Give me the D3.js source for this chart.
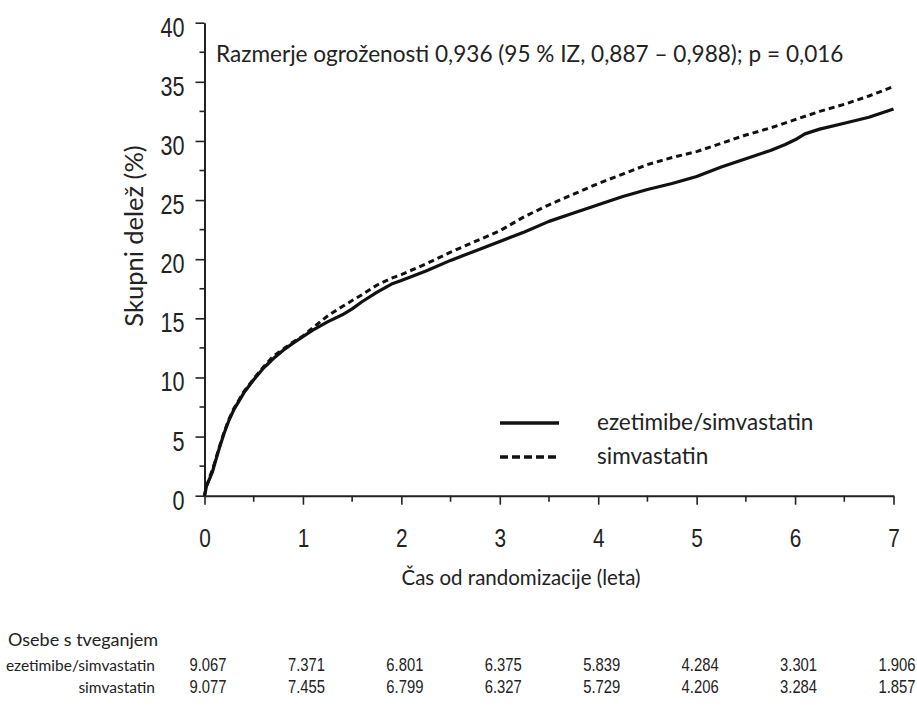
<!DOCTYPE html>
<html>
<head>
<meta charset="utf-8">
<script src="https://cdn.jsdelivr.net/npm/d3@7"></script>
<style>
  html, body { margin: 0; padding: 0; background: #fff; }
  svg { display: block; }
  .calibri { font-family: Lato, "Open Sans", sans-serif; fill: #222; }
  .narrow { font-family: "Liberation Sans", Arial, sans-serif; fill: #222; }
</style>
</head>
<body>
<svg id="chart" width="917" height="709"></svg>
<script>
// ---- data ----
const timeSolid = [0, 0.02, 0.05, 0.08, 0.1, 0.15, 0.2, 0.25, 0.3, 0.35, 0.4, 0.5, 0.6, 0.7, 0.8, 0.9, 1.0, 1.1, 1.25, 1.4, 1.5, 1.6, 1.75, 1.9, 2.0, 2.25, 2.5, 2.75, 3.0, 3.25, 3.5, 3.75, 4.0, 4.25, 4.5, 4.75, 5.0, 5.25, 5.5, 5.75, 5.9, 6.0, 6.1, 6.25, 6.5, 6.75, 7.0];
const ezetimibeSimvastatin = [0, 0.8, 1.4, 2.0, 2.6, 4.0, 5.3, 6.4, 7.3, 8.0, 8.7, 9.8, 10.8, 11.6, 12.3, 12.9, 13.45, 14.0, 14.7, 15.3, 15.8, 16.4, 17.2, 17.9, 18.2, 19.0, 19.9, 20.7, 21.5, 22.3, 23.2, 23.9, 24.6, 25.3, 25.9, 26.4, 27.0, 27.8, 28.5, 29.2, 29.7, 30.1, 30.6, 31.0, 31.5, 32.0, 32.7];
const timeDashed = [0, 0.02, 0.05, 0.08, 0.1, 0.15, 0.2, 0.25, 0.3, 0.35, 0.4, 0.5, 0.6, 0.7, 0.8, 0.9, 1.0, 1.1, 1.25, 1.4, 1.5, 1.6, 1.75, 1.9, 2.0, 2.25, 2.5, 2.75, 3.0, 3.25, 3.5, 3.75, 4.0, 4.25, 4.5, 4.75, 5.0, 5.25, 5.5, 5.75, 6.0, 6.25, 6.5, 6.75, 7.0];
const simvastatin = [0, 0.8, 1.5, 2.2, 2.7, 4.1, 5.4, 6.5, 7.4, 8.1, 8.8, 9.9, 10.9, 11.8, 12.4, 13.0, 13.5, 14.2, 15.2, 16.0, 16.5, 17.0, 17.8, 18.4, 18.7, 19.6, 20.6, 21.5, 22.4, 23.6, 24.6, 25.5, 26.4, 27.2, 28.0, 28.6, 29.1, 29.8, 30.5, 31.1, 31.8, 32.5, 33.1, 33.8, 34.6];

const xTicks = [0, 1, 2, 3, 4, 5, 6, 7];
const yTicks = [0, 5, 10, 15, 20, 25, 30, 35, 40];
const seriesNames = ["ezetimibe/simvastatin", "simvastatin"];
const atRiskTitle = "Osebe s tveganjem";
const atRiskEze = ["9.067", "7.371", "6.801", "6.375", "5.839", "4.284", "3.301", "1.906"];
const atRiskSim = ["9.077", "7.455", "6.799", "6.327", "5.729", "4.206", "3.284", "1.857"];
const annotation = "Razmerje ogroženosti 0,936 (95 % IZ, 0,887 – 0,988); p = 0,016";
const xTitle = "Čas od randomizacije (leta)";
const yTitle = "Skupni delež (%)";

// ---- scales ----
const svg = d3.select("#chart");
const x = d3.scaleLinear().domain([0, 7]).range([204.5, 893.5]);
const y = d3.scaleLinear().domain([0, 40]).range([495.7, 22.7]);
const NARROW = 0.8;

// ---- y axis ----
const yAxis = svg.append("g").attr("transform", `translate(${x(0)},0)`);
yAxis.call(d3.axisLeft(y).tickValues(yTicks).tickSize(9).tickSizeOuter(0).tickFormat(d3.format("d")));
yAxis.append("g").selectAll("line")
  .data(d3.range(2.5, 40, 5))
  .join("line")
  .attr("x1", 0).attr("x2", -5)
  .attr("y1", d => y(d)).attr("y2", d => y(d))
  .attr("stroke", "#222").attr("stroke-width", 1.6);
yAxis.select(".domain").attr("stroke", "#222").attr("stroke-width", 2);
yAxis.selectAll(".tick line").attr("stroke", "#222").attr("stroke-width", 1.6);
yAxis.selectAll(".tick text").attr("class", "narrow").attr("font-size", 27).attr("fill", "#222")
  .attr("x", -20 / NARROW).attr("y", 13.5).attr("dy", null)
  .attr("transform", `scale(${NARROW},1)`);

// ---- x axis ----
const xAxis = svg.append("g").attr("transform", `translate(0,${y(0)})`);
xAxis.call(d3.axisBottom(x).tickValues(xTicks).tickSize(9).tickSizeOuter(0).tickFormat(d3.format("d")));
xAxis.append("g").selectAll("line")
  .data(d3.range(0.5, 7, 1))
  .join("line")
  .attr("x1", d => x(d)).attr("x2", d => x(d))
  .attr("y1", 0).attr("y2", 6)
  .attr("stroke", "#222").attr("stroke-width", 1.6);
xAxis.select(".domain").attr("stroke", "#222").attr("stroke-width", 2);
xAxis.selectAll(".tick line").attr("stroke", "#222").attr("stroke-width", 1.6);
xAxis.selectAll(".tick text").attr("class", "narrow").attr("font-size", 26).attr("fill", "#222")
  .attr("y", 51).attr("dy", null).attr("transform", `scale(${NARROW},1)`);

// ---- curves ----
const line = d3.line().x(d => x(d[0])).y(d => y(d[1])).curve(d3.curveLinear);
svg.append("path")
  .datum(timeDashed.map((t, i) => [t, simvastatin[i]]))
  .attr("d", line).attr("fill", "none")
  .attr("stroke", "#111").attr("stroke-width", 3).attr("stroke-dasharray", "6,4");
svg.append("path")
  .datum(timeSolid.map((t, i) => [t, ezetimibeSimvastatin[i]]))
  .attr("d", line).attr("fill", "none")
  .attr("stroke", "#111").attr("stroke-width", 3.2).attr("stroke-linejoin", "round");

// ---- annotation ----
svg.append("text").attr("class", "calibri")
  .attr("x", 216).attr("y", 62).attr("font-size", 22.6)
  .text(annotation);

// ---- legend ----
const legend = svg.append("g");
const legendStyles = [{dash: null, w: 3.5}, {dash: "8,4", w: 3.5}];
seriesNames.forEach((name, i) => {
  const ly = 423 + i * 34;
  legend.append("line").attr("x1", 500).attr("x2", 559).attr("y1", ly).attr("y2", ly)
    .attr("stroke", "#111").attr("stroke-width", legendStyles[i].w)
    .attr("stroke-dasharray", legendStyles[i].dash);
  legend.append("text").attr("class", "calibri").attr("x", 597).attr("y", ly + 7)
    .attr("font-size", 22.5).text(name);
});

// ---- axis titles ----
svg.append("text").attr("class", "calibri").attr("text-anchor", "middle")
  .attr("x", 521).attr("y", 585).attr("font-size", 20.5).text(xTitle);
svg.append("text").attr("class", "calibri").attr("text-anchor", "middle")
  .attr("transform", `translate(143,236) rotate(-90)`).attr("font-size", 25.5).text(yTitle);

// ---- at-risk table ----
svg.append("text").attr("class", "calibri").attr("x", 8).attr("y", 646).attr("font-size", 18).text(atRiskTitle);
[[seriesNames[0], atRiskEze, 671], [seriesNames[1], atRiskSim, 693]].forEach(([name, vals, ry]) => {
  svg.append("text").attr("class", "calibri").attr("text-anchor", "end")
    .attr("x", 155).attr("y", ry).attr("font-size", 15.5).text(name);
  svg.append("g").selectAll("text").data(vals).join("text")
    .attr("class", "narrow").attr("text-anchor", "middle")
    .attr("x", (d, i) => (x(xTicks[i]) + 3.5) / NARROW).attr("y", ry).attr("font-size", 18.5)
    .attr("transform", `scale(${NARROW},1)`)
    .text(d => d);
});
</script>
</body>
</html>
